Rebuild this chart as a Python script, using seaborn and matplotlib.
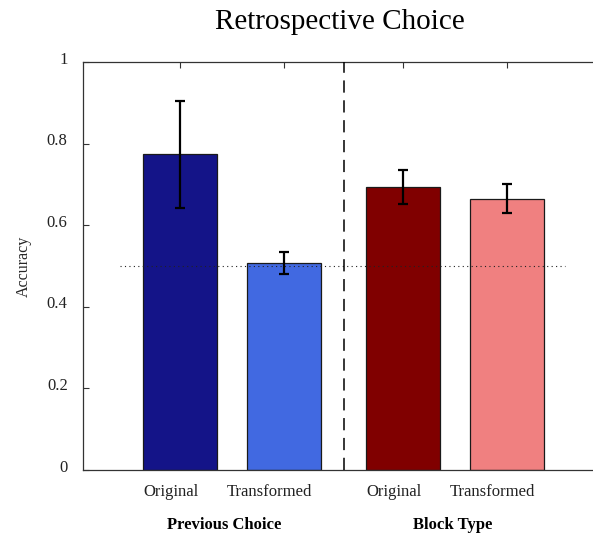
import matplotlib
matplotlib.use("Agg")
import matplotlib.pyplot as plt
import matplotlib.transforms as mtransforms
import seaborn as sns
import pandas as pd
import numpy as np

# ---- data ----
groups = ["Previous Choice", "Previous Choice", "Block Type", "Block Type"]
conditions = ["Original", "Transformed", "Original", "Transformed"]
accuracy = [0.775, 0.507, 0.694, 0.665]
err_low = [0.643, 0.481, 0.651, 0.630]
err_high = [0.905, 0.534, 0.736, 0.701]
colors = ["#141488", "#4169E1", "#800000", "#F08080"]
yticks = [0, 0.2, 0.4, 0.6, 0.8, 1]
ytick_labels = ["0", "0.2", "0.4", "0.6", "0.8", "1"]
group_names = ["Previous Choice", "Block Type"]
chance = 0.5
title = "Retrospective Choice"
ylabel = "Accuracy"

sns.set_theme(style="white")
plt.rcParams["font.family"] = ["Liberation Serif", "DejaVu Serif"]

# layout positions (group gap slightly wider than within-group spacing)
group_idx = [group_names.index(g) for g in groups]
pos = [i + 0.144 * gi for i, gi in enumerate(group_idx)]
keys = [f"{g} - {c}" for g, c in zip(groups, conditions)]

df = pd.DataFrame({"pos": pos, "acc": accuracy, "key": keys})

fig = plt.figure(figsize=(5.93, 5.38), dpi=100)
ax = fig.add_axes([83 / 593, 68 / 538, 1 - 83 / 593, 408 / 538])

sns.barplot(data=df, x="pos", y="acc", hue="key", hue_order=keys,
            palette=colors, native_scale=True, dodge=False, width=0.71,
            errorbar=None, legend=False, saturation=1,
            edgecolor="#1a1a1a", linewidth=0.9, ax=ax)

acc = np.array(accuracy)
yerr = [acc - np.array(err_low), np.array(err_high) - acc]
ax.errorbar(pos, acc, yerr=yerr, fmt="none", ecolor="black",
            elinewidth=1.6, capsize=3.4, capthick=1.6, zorder=5)

# separator and chance line
sep = (pos[1] + pos[2]) / 2
ax.axvline(sep, ls=(0, (8, 5)), lw=1.1, color="black", zorder=4)
ax.hlines(chance, -0.577, 3.70, linestyles=(0, (1, 3)), lw=0.8,
          color="#222222", zorder=1)

ax.set_xlim(-0.933, 3.971)
ax.set_ylim(0, 1)
ax.set_yticks(yticks, ytick_labels)
ax.set_xticks(pos, conditions)
ax.set_xlabel("")
ax.set_ylabel(ylabel, fontsize=11.5)
ax.yaxis.set_label_coords(-0.10, 0.5)

ax.tick_params(axis="x", direction="in", top=True, bottom=True, length=4,
               width=0.8, pad=10, labelsize=12, colors="#333333",
               labelcolor="#222222")
ax.tick_params(axis="y", direction="in", left=True, right=False, length=4,
               width=0.8, pad=11, labelsize=12, colors="#333333",
               labelcolor="#222222")

for side in ["left", "top", "bottom"]:
    ax.spines[side].set_color("#333333")
    ax.spines[side].set_linewidth(0.9)
ax.spines["right"].set_visible(False)

# group labels
trans = mtransforms.blended_transform_factory(ax.transData, ax.transAxes)
label_x = [0.42, 2.62]
for name, lx in zip(group_names, label_x):
    ax.text(lx, -0.135, name, transform=trans, ha="center", va="center",
            fontsize=12, fontweight="bold", color="black")

fig.text(339.5 / 593, 1 - 22 / 538, title, ha="center", va="center",
         fontsize=21, color="black")

# label placement tweaks (reference labels sit slightly left / above ticks)
fig.canvas.draw()
renderer = fig.canvas.get_renderer()
for lab in ax.get_xticklabels():
    w = lab.get_window_extent(renderer).width
    off = mtransforms.ScaledTranslation(-0.17 * w / 100, 0, fig.dpi_scale_trans)
    lab.set_transform(lab.get_transform() + off)
for lab in ax.get_yticklabels():
    off = mtransforms.ScaledTranslation(0, 4.5 / 100, fig.dpi_scale_trans)
    lab.set_transform(lab.get_transform() + off)

fig.savefig("out.png", dpi=100)
